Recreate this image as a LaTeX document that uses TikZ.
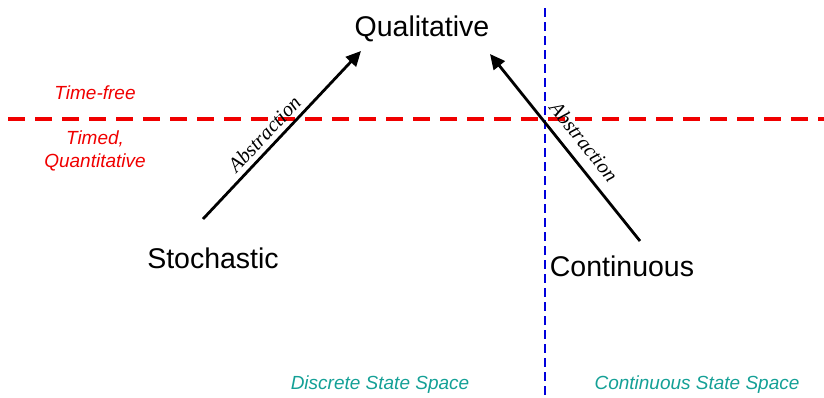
\documentclass[tikz,border=0pt]{standalone}
\usepackage{fontspec}
\setmainfont{Liberation Sans}
\newfontfamily\serifit{Liberation Serif}
\usetikzlibrary{arrows.meta}
\definecolor{tealtxt}{RGB}{20,160,150}
\definecolor{redln}{RGB}{240,0,0}
\definecolor{blueln}{RGB}{0,0,220}
\begin{document}
\begin{tikzpicture}[x=1pt,y=-1pt,
  main/.style={font=\fontsize{28.5}{32}\selectfont},
  redtxt/.style={text=redln,font=\fontsize{19}{23}\selectfont\itshape,align=center},
  spacetxt/.style={text=tealtxt,font=\fontsize{19}{23}\selectfont\itshape},
  abs/.style={font=\fontsize{20.5}{24}\selectfont\serifit\itshape,sloped,inner sep=2pt},
  arr/.style={line width=2.8pt,-{Triangle[length=15pt,width=14pt]}}]
\useasboundingbox (0,0) rectangle (824,397);
% boundary lines
\draw[redln,line width=4pt,dash pattern=on 17pt off 10pt] (8,119) -- (824,119);
\draw[blueln,line width=2pt,dash pattern=on 9pt off 5pt] (545,8) -- (545,397);
% nodes
\node[main] (qual) at (422,29) {Qualitative};
\node[main] (stoch) at (213,258) {Stochastic};
\node[main] (cont) at (622,266) {Continuous};
% connectors
\coordinate (s1) at (203,219);
\coordinate (e1) at (361,51);
\coordinate (s2) at (640,241);
\coordinate (e2) at (490,54);
\draw[arr] (s1) -- node[abs,above=3pt,pos=0.45] {Abstraction} (e1);
\draw[arr] (s2) -- node[abs,above=8pt,pos=0.47] {Abstraction} (e2);
% labels
\node[redtxt] (tf) at (95,93) {Time-free};
\node[redtxt] (tq) at (95,151) {Timed,\\Quantitative};
\node[spacetxt] (dss) at (380,385) {Discrete State Space};
\node[spacetxt] (css) at (697,385) {Continuous State Space};
\end{tikzpicture}
\end{document}
